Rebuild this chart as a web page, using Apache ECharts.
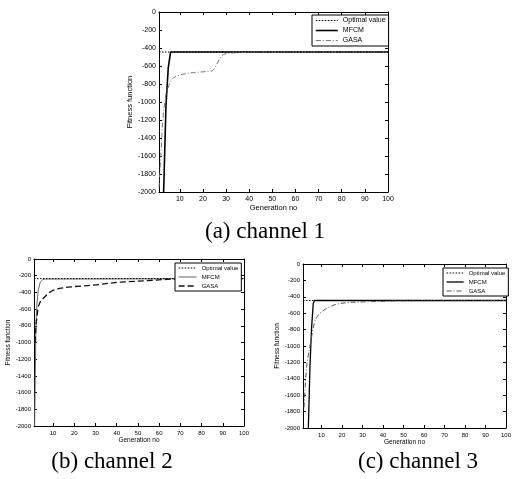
<!DOCTYPE html>
<html>
<head>
<meta charset="utf-8">
<script src="https://cdn.jsdelivr.net/npm/echarts@6/dist/echarts.min.js"></script>
<style>html,body{margin:0;padding:0;background:#fff}#c{width:514px;height:479px}</style>
</head>
<body>
<div id="c"></div>
<script>
// ---------- data ----------
const seriesNames = ['Optimal value', 'MFCM', 'GASA'];
const xTicks = [10, 20, 30, 40, 50, 60, 70, 80, 90, 100];
const captions = ['(a) channel 1', '(b) channel 2', '(c) channel 3'];

// (a) channel 1
const optA_x = [1, 100];
const optA_y = [-445, -445];
const mfcmA_x = [3, 4, 5, 6, 100];
const mfcmA_y = [-2000, -1050, -620, -445, -445];
const gasaA_x = [1, 2, 2.5, 3, 4, 4.5, 6, 7.5, 10, 13, 16, 20, 24, 25, 26, 27, 28, 29, 31, 35, 40, 100];
const gasaA_y = [-1950, -1500, -1250, -1100, -910, -870, -765, -725, -700, -682, -672, -665, -655, -630, -580, -530, -490, -470, -458, -452, -447, -445];

// (b) channel 2
const optB_x = [1, 100];
const optB_y = [-235, -235];
const mfcmB_x = [1.3, 1.9, 2.3, 3, 4, 5, 6, 100];
const mfcmB_y = [-2000, -810, -560, -370, -275, -250, -240, -235];
const gasaB_x = [1.5, 2, 3, 4, 5, 6, 8, 10, 13, 17, 20, 25, 32, 40, 50, 60, 65, 70, 100];
const gasaB_y = [-1000, -780, -570, -510, -480, -455, -405, -375, -352, -338, -330, -322, -305, -280, -265, -250, -242, -237, -235];

// (c) channel 3
const optC_x = [1, 100];
const optC_y = [-445, -445];
const mfcmC_x = [3.6, 4.4, 5.2, 6, 6.6, 100];
const mfcmC_y = [-2000, -1250, -770, -480, -445, -445];
const gasaC_x = [1.5, 2.3, 3, 4, 5, 6, 7, 8, 9, 10, 12, 15, 17, 20, 25, 30, 37, 45, 100];
const gasaC_y = [-1750, -1400, -1200, -1050, -920, -770, -680, -640, -605, -585, -550, -512, -492, -478, -467, -462, -457, -450, -445];

// ---------- styles / layout ----------
const pts = (xs, ys) => xs.map((x, i) => [x, ys[i]]);
const dots = [1.5, 1.5];
const dashDot = [5, 2, 1, 2];
const longDash = [6, 3];

const panels = [
  { grid: {left: 159, top: 12, width: 229, height: 180}, fs: 7, yGap: 23, xGap: 11,
    legend: {left: 312, top: 15, itemWidth: 22, fs: 7, gap: 3},
    cap: {x: 265, y: 232},
    data: [[optA_x, optA_y], [mfcmA_x, mfcmA_y], [gasaA_x, gasaA_y]],
    styles: [
      {color: '#000', width: 1, type: dots},
      {color: '#000', width: 1.6, type: 'solid'},
      {color: '#777', width: 1, type: dashDot}
    ]},
  { grid: {left: 34, top: 259, width: 210, height: 167}, fs: 6, yGap: 21, xGap: 10,
    legend: {left: 175, top: 263, itemWidth: 18, fs: 6, gap: 3},
    cap: {x: 112, y: 462},
    data: [[optB_x, optB_y], [mfcmB_x, mfcmB_y], [gasaB_x, gasaB_y]],
    styles: [
      {color: '#000', width: 1, type: dots},
      {color: '#666', width: 1, type: 'solid'},
      {color: '#111', width: 1.3, type: longDash}
    ]},
  { grid: {left: 303, top: 264, width: 205, height: 164}, fs: 6, yGap: 17, xGap: 9,
    legend: {left: 443, top: 268, itemWidth: 17, fs: 6, gap: 3},
    cap: {x: 418, y: 462},
    data: [[optC_x, optC_y], [mfcmC_x, mfcmC_y], [gasaC_x, gasaC_y]],
    styles: [
      {color: '#000', width: 1, type: dots},
      {color: '#000', width: 1.3, type: 'solid'},
      {color: '#555', width: 1, type: dashDot}
    ]}
];

const font = 'Liberation Sans';
const grids = [], xAxes = [], yAxes = [], series = [], legends = [], graphics = [];
const hidden = {color: 'rgba(0,0,0,0)', borderColor: 'rgba(0,0,0,0)', borderWidth: 0, opacity: 0};

panels.forEach((p, i) => {
  grids.push(p.grid);
  const tick = {show: true, inside: true, length: 3, lineStyle: {color: '#000', width: 1}};
  const line = {show: true, onZero: false, lineStyle: {color: '#000', width: 1}};
  xAxes.push({
    type: 'value', gridIndex: i, min: 1, max: 100, position: 'bottom',
    axisLine: line, axisTick: Object.assign({customValues: xTicks}, tick),
    axisLabel: {customValues: xTicks, fontSize: p.fs, color: '#000', fontFamily: font, margin: 4},
    splitLine: {show: false},
    name: 'Generation no', nameLocation: 'middle', nameGap: p.xGap,
    nameTextStyle: {fontSize: p.fs + 0.5, color: '#000', fontFamily: font}
  });
  xAxes.push({
    type: 'value', gridIndex: i, min: 1, max: 100, position: 'top',
    axisLine: line, axisTick: Object.assign({customValues: xTicks}, tick),
    axisLabel: {show: false}, splitLine: {show: false}
  });
  yAxes.push({
    type: 'value', gridIndex: i, min: -2000, max: 0, interval: 200, position: 'left',
    axisLine: line, axisTick: tick,
    axisLabel: {fontSize: p.fs, color: '#000', fontFamily: font, margin: 3,
                formatter: v => String(v)},
    splitLine: {show: false},
    name: 'Fitness function', nameLocation: 'middle', nameGap: p.yGap, nameRotate: 90,
    nameTextStyle: {fontSize: p.fs + 0.5, color: '#000', fontFamily: font}
  });
  yAxes.push({
    type: 'value', gridIndex: i, min: -2000, max: 0, interval: 200, position: 'right',
    axisLine: line, axisTick: tick, axisLabel: {show: false}, splitLine: {show: false}
  });
  p.data.forEach((d, k) => {
    series.push({
      type: 'line', name: seriesNames[k], xAxisIndex: 2 * i, yAxisIndex: 2 * i,
      data: pts(d[0], d[1]), symbol: 'none', showSymbol: false, animation: false,
      lineStyle: p.styles[k], itemStyle: {color: p.styles[k].color}, z: k === 0 ? 3 : 2,
      clip: true
    });
  });
  legends.push({
    orient: 'vertical', left: p.legend.left, top: p.legend.top,
    itemWidth: p.legend.itemWidth, itemHeight: 6, itemGap: p.legend.gap,
    padding: [2, 3, 2, 3], borderColor: '#000', borderWidth: 1, borderRadius: 0,
    backgroundColor: '#fff', selectedMode: false,
    textStyle: {fontSize: p.legend.fs, color: '#000', fontFamily: font},
    data: seriesNames.map((n, k) => ({name: n, lineStyle: p.styles[k], itemStyle: hidden}))
  });
  graphics.push({
    type: 'text', x: p.cap.x, y: p.cap.y,
    style: {text: captions[i], font: '23px "Liberation Serif"', fill: '#000',
            align: 'center', verticalAlign: 'middle', textAlign: 'center', textVerticalAlign: 'middle'}
  });
});

const chart = echarts.init(document.getElementById('c'), null, {renderer: 'canvas'});
chart.setOption({
  animation: false,
  backgroundColor: '#fff',
  grid: grids, xAxis: xAxes, yAxis: yAxes, series: series,
  legend: legends, graphic: graphics
});
</script>
</body>
</html>
